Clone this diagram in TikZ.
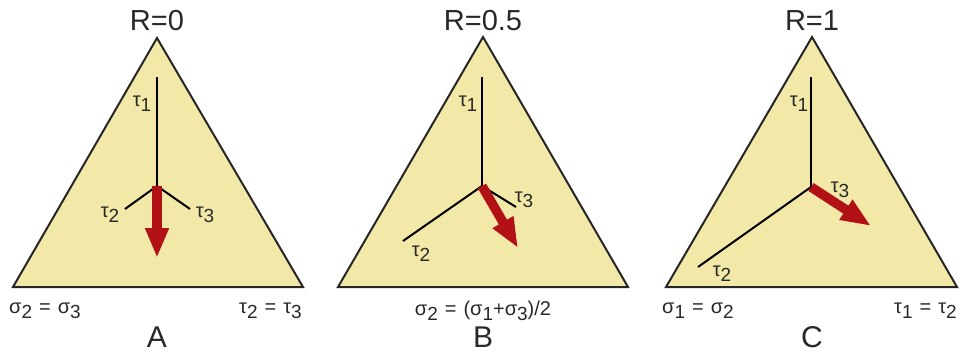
\documentclass[tikz,border=0pt]{standalone}
\usepackage{fontspec}
\setmainfont{Liberation Sans}
\usetikzlibrary{arrows.meta}
\definecolor{triyellow}{RGB}{242,233,168}
\definecolor{arrred}{RGB}{178,18,22}
\definecolor{txt}{RGB}{40,40,40}
\newcommand{\sbs}[1]{\raisebox{-0.5ex}{\scalebox{0.95}{#1}}}
\newcommand{\eqs}{\hspace{0.35em}=\hspace{0.35em}}
\tikzset{
  tri/.style={fill=triyellow, draw=black!85, line width=2pt, line join=miter},
  axisline/.style={draw=black, line width=2pt},
  sarrow/.style={draw=arrred, line width=9.5pt, -{Triangle[length=30pt,width=22pt]}},
  biglbl/.style={text=txt, font=\fontsize{29}{31}\selectfont, inner sep=0pt},
  letterlbl/.style={text=txt, font=\fontsize{30}{32}\selectfont, inner sep=0pt},
  smlbl/.style={text=txt, font=\fontsize{20}{22}\selectfont, inner sep=0pt},
}
\begin{document}
\begin{tikzpicture}[x=1pt,y=-1pt]
\useasboundingbox (0,0) rectangle (960,356);
% ---------- A ----------
\coordinate (Aa) at (157,38);
\coordinate (Al) at (13,287);
\coordinate (Ar) at (303,287);
\path[tri] (Aa) -- (Al) -- (Ar) -- cycle;
\coordinate (Ac) at (157,186);
\coordinate (A1) at (157,77);
\coordinate (A2) at (125,209);
\coordinate (A3) at (190,209);
\coordinate (Ae) at (157,258);
\draw[axisline] (A1) -- (Ac);
\draw[axisline] (A2) -- (Ac) -- (A3);
\draw[sarrow] (Ac) -- (Ae);
\node[smlbl] (Atau1) at (142,104) {τ\sbs{1}};
\node[smlbl] (Atau2) at (110,215) {τ\sbs{2}};
\node[smlbl] (Atau3) at (205,215) {τ\sbs{3}};
\node[biglbl] (AR) at (157,21) {R=0};
\node[smlbl, anchor=west] (Abl) at (9,311) {σ\sbs{2}\eqs σ\sbs{3}};
\node[smlbl, anchor=east] (Abr) at (302,311) {τ\sbs{2}\eqs τ\sbs{3}};
\node[letterlbl] (Alet) at (157,337) {A};
% ---------- B ----------
\coordinate (Ba) at (483,37);
\coordinate (Bl) at (338,287);
\coordinate (Br) at (628,287);
\path[tri] (Ba) -- (Bl) -- (Br) -- cycle;
\coordinate (Bc) at (482,186);
\coordinate (B1) at (482,77);
\coordinate (B2) at (403,241);
\coordinate (B3) at (516,207);
\coordinate (Be) at (518,248);
\draw[axisline] (B1) -- (Bc);
\draw[axisline] (B2) -- (Bc) -- (B3);
\draw[sarrow] (Bc) -- (Be);
\node[smlbl] (Btau1) at (468,104) {τ\sbs{1}};
\node[smlbl] (Btau2) at (421,254) {τ\sbs{2}};
\node[smlbl] (Btau3) at (524,200) {τ\sbs{3}};
\node[biglbl] (BR) at (483,21) {R=0.5};
\node[smlbl] (Bb) at (483,311) {σ\sbs{2}\eqs(σ\sbs{1}+σ\sbs{3})/2};
\node[letterlbl] (Blet) at (483,337) {B};
% ---------- C ----------
\coordinate (Ca) at (812,37);
\coordinate (Cl) at (666,287);
\coordinate (Cr) at (957,287);
\path[tri] (Ca) -- (Cl) -- (Cr) -- cycle;
\coordinate (Cc) at (811,187);
\coordinate (C1) at (811,77);
\coordinate (C2) at (698,267);
\coordinate (Ce) at (871,226);
\draw[axisline] (C1) -- (Cc);
\draw[axisline] (C2) -- (Cc);
\draw[sarrow] (Cc) -- (Ce);
\node[smlbl] (Ctau1) at (799,104) {τ\sbs{1}};
\node[smlbl] (Ctau2) at (722,274) {τ\sbs{2}};
\node[smlbl] (Ctau3) at (840,190) {τ\sbs{3}};
\node[biglbl] (CR) at (812,21) {R=1};
\node[smlbl, anchor=west] (Cbl) at (662,311) {σ\sbs{1}\eqs σ\sbs{2}};
\node[smlbl, anchor=east] (Cbr) at (957,311) {τ\sbs{1}\eqs τ\sbs{2}};
\node[letterlbl] (Clet) at (812,337) {C};
\end{tikzpicture}
\end{document}
